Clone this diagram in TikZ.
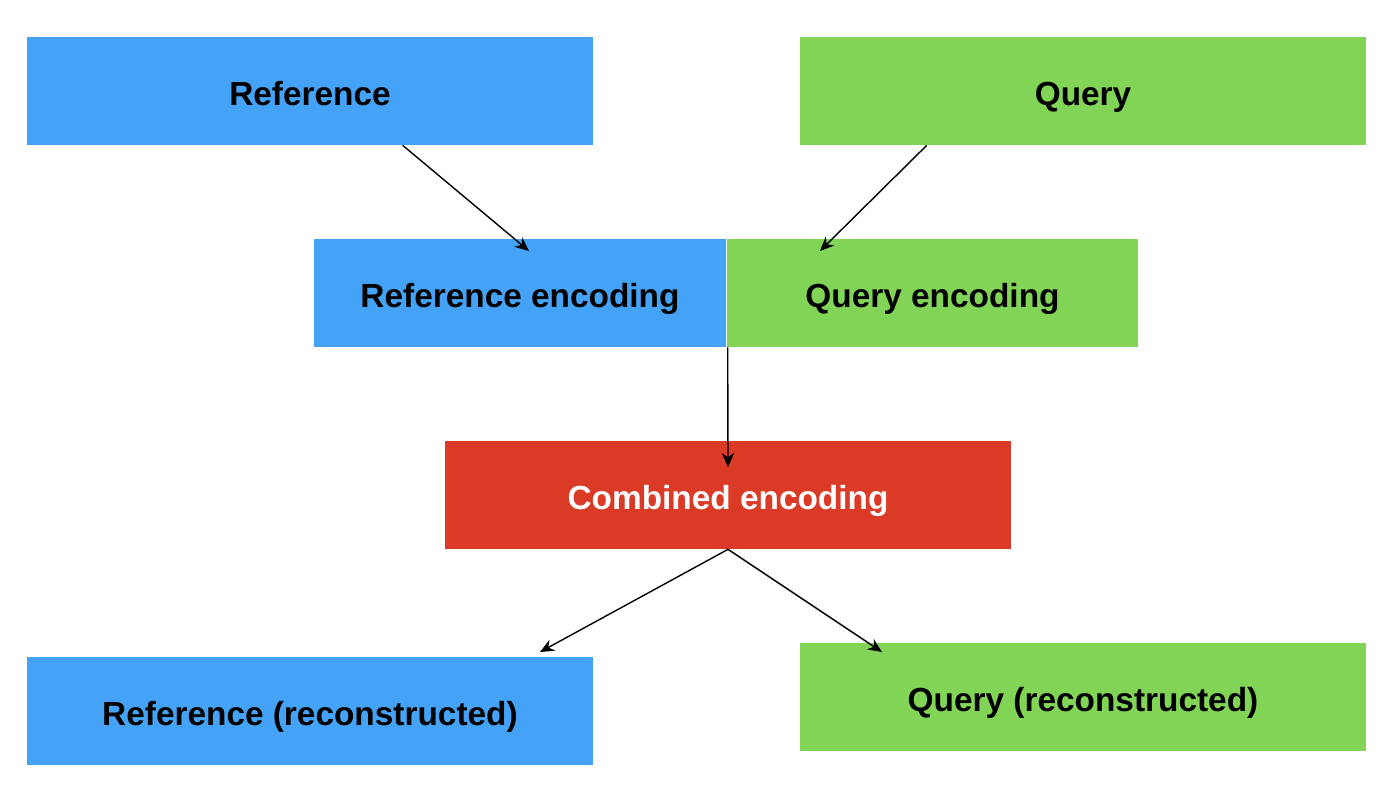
\documentclass[tikz,border=0pt]{standalone}
\usepackage{fontspec}
\setmainfont{Liberation Sans}
\usepackage{tikz}
\usetikzlibrary{arrows.meta}

\definecolor{refblue}{RGB}{68,163,247}
\definecolor{qrygreen}{RGB}{129,212,85}
\definecolor{combred}{RGB}{218,58,38}

\tikzset{
	encbox/.style={inner sep=0pt,minimum width=11.32cm,minimum height=2.16cm,text height=16pt,text depth=0pt,font=\fontsize{19}{22}\selectfont\bfseries},
	halfbox/.style={encbox,minimum width=8.24cm},
	flow/.style={-{Stealth[length=8pt,width=7pt]},thick}
}

\begin{document}
\begin{tikzpicture}[x=0.02cm,y=-0.02cm]
	\useasboundingbox (0,0) rectangle (1398,808);
	
	\node[encbox,fill=refblue] (ref) at (310,91) {Reference};
	\node[encbox,fill=qrygreen] (qry) at (1083,91) {Query};
	
	\node[halfbox,fill=refblue] (refenc) at (520,293) {Reference encoding};
	\node[halfbox,fill=qrygreen,minimum width=8.22cm] (qryenc) at (932.5,293) {Query encoding};
	
	\node[encbox,fill=combred,text=white] (comb) at (728,495) {Combined encoding};
	
	\node[encbox,fill=refblue] (refrec) at (310,711) {Reference (reconstructed)};
	\node[encbox,fill=qrygreen] (qryrec) at (1083,697) {Query (reconstructed)};
	
	% arrow ends inside the boxes
	\coordinate (refin) at (529,251);
	\coordinate (qryin) at (820,251);
	\coordinate (combin) at (728,467);
	\coordinate (refrecin) at (540,652);
	\coordinate (qryrecin) at (882,652);
	
	\draw[flow] (ref.south west) ++(376,0) coordinate (refout) -- (refin);
	\draw[flow] (qry.south west) ++(127,0) coordinate (qryout) -- (qryin);
	\draw[flow] (qryenc.south west) ++(1,0) coordinate (encout) -- (combin);
	\draw[flow] (comb.south) -- (refrecin);
	\draw[flow] (comb.south) -- (qryrecin);
\end{tikzpicture}
\end{document}
